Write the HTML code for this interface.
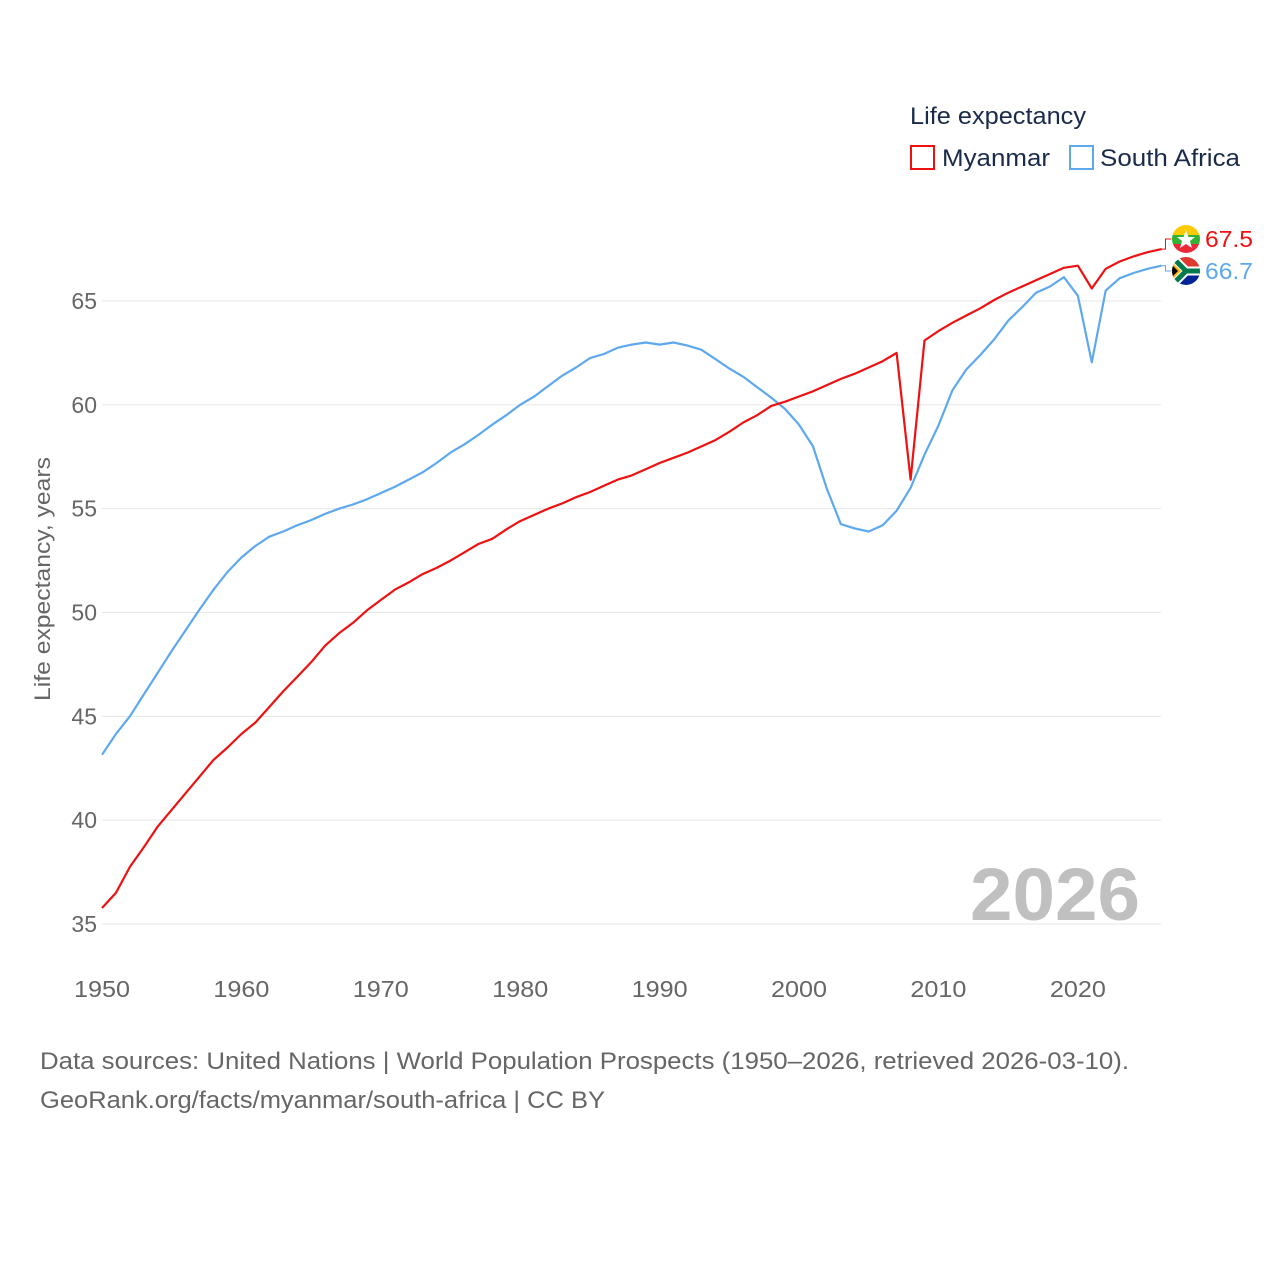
<!DOCTYPE html>
<html><head><meta charset="utf-8">
<style>
html,body{margin:0;padding:0;background:#fff;}
body{width:1280px;height:1280px;overflow:hidden;font-family:"Liberation Sans",sans-serif;}
svg text{font-family:"Liberation Sans",sans-serif;}
</style></head>
<body>
<svg id="chart" width="1280" height="1280" viewBox="0 0 1280 1280" xmlns="http://www.w3.org/2000/svg">
  <g id="grid"></g>
  <g id="yticks"></g>
  <g id="xticks"></g>
  <text transform="translate(50,579) rotate(-90)" text-anchor="middle" font-size="22" fill="#666" textLength="244" lengthAdjust="spacingAndGlyphs">Life expectancy, years</text>
  <text x="1140" y="920" text-anchor="end" font-size="74" font-weight="bold" fill="#c0c0c0" textLength="170" lengthAdjust="spacingAndGlyphs">2026</text>
  <g id="series"></g>
  <g>
    <text x="910" y="124" font-size="24" fill="#1a2b4a" textLength="176" lengthAdjust="spacingAndGlyphs">Life expectancy</text>
    <g>
      <rect x="911" y="146" width="23" height="23" fill="none" stroke="#ee1111" stroke-width="2"/>
      <text x="942" y="166" font-size="24" fill="#1a2b4a" textLength="108" lengthAdjust="spacingAndGlyphs">Myanmar</text>
    </g>
    <g>
      <rect x="1070" y="146" width="23" height="23" fill="none" stroke="#5ea8ee" stroke-width="2"/>
      <text x="1100" y="166" font-size="24" fill="#1a2b4a" textLength="140" lengthAdjust="spacingAndGlyphs">South Africa</text>
    </g>
  </g>
  <g>
    <text x="40" y="1069" font-size="24" fill="#666" textLength="1089" lengthAdjust="spacingAndGlyphs">Data sources: United Nations | World Population Prospects (1950–2026, retrieved 2026-03-10).</text>
    <text x="40" y="1108" font-size="24" fill="#666" textLength="565" lengthAdjust="spacingAndGlyphs">GeoRank.org/facts/myanmar/south-africa | CC BY</text>
  </g>
</svg>
<script>
const years = [];
for (let y = 1950; y <= 2026; y++) years.push(y);
const myanmar = [35.77,36.5,37.75,38.7,39.7,40.5,41.3,42.1,42.9,43.5,44.15,44.7,45.45,46.2,46.9,47.6,48.4,49.0,49.5,50.1,50.6,51.1,51.45,51.85,52.15,52.5,52.9,53.3,53.55,54.0,54.4,54.7,55.0,55.25,55.55,55.8,56.1,56.4,56.6,56.9,57.2,57.45,57.7,58.0,58.3,58.7,59.15,59.5,59.95,60.15,60.4,60.65,60.95,61.25,61.5,61.8,62.1,62.5,56.4,63.1,63.55,63.95,64.3,64.65,65.05,65.4,65.7,66.0,66.3,66.6,66.7,65.6,66.55,66.9,67.15,67.35,67.5];
const southAfrica = [43.15,44.15,45.0,46.05,47.1,48.15,49.15,50.15,51.1,51.95,52.65,53.2,53.65,53.9,54.2,54.45,54.75,55.0,55.2,55.45,55.75,56.05,56.4,56.75,57.2,57.7,58.1,58.55,59.05,59.5,60.0,60.4,60.9,61.4,61.8,62.25,62.45,62.75,62.9,63.0,62.9,63.0,62.85,62.65,62.2,61.75,61.35,60.85,60.35,59.8,59.05,58.0,55.95,54.25,54.05,53.9,54.2,54.9,56.0,57.6,59.0,60.7,61.7,62.4,63.15,64.05,64.7,65.4,65.7,66.15,65.25,62.05,65.5,66.1,66.35,66.55,66.7];
const yTickLabels = [35,40,45,50,55,60,65];
const xTickLabels = [1950,1960,1970,1980,1990,2000,2010,2020];

const NS = "http://www.w3.org/2000/svg";
const X0 = 102, X1 = 1161.5, Y0 = 924, Y1 = 301;
const xScale = yr => X0 + (yr - 1950) / 76 * (X1 - X0);
const yScale = v => Y0 - (v - 35) / 30 * (Y0 - Y1);
function mk(tag, attrs, parent) { const e = document.createElementNS(NS, tag); for (const k in attrs) e.setAttribute(k, attrs[k]); parent.appendChild(e); return e; }

const grid = document.getElementById('grid'), yt = document.getElementById('yticks'), xt = document.getElementById('xticks');
yTickLabels.forEach(v => {
  const l = mk('line', {x1: 102, x2: 1161, y1: yScale(v), y2: yScale(v), stroke: '#e6e6e6', 'stroke-width': 1}, grid);
  
  
  const t = mk('text', {x: 97, y: yScale(v) + 8, 'text-anchor': 'end', 'font-size': 23, fill: '#666'}, yt);
  t.textContent = v;
  
  
});
xTickLabels.forEach(yr => {
  const t = mk('text', {x: xScale(yr), y: 997, 'text-anchor': 'middle', 'font-size': 23, fill: '#666', textLength: 56, lengthAdjust: 'spacingAndGlyphs'}, xt);
  t.textContent = yr;
  
  
});

const ser = document.getElementById('series');
function drawSeries(vals, color, name, labelY, flag) {
  const d = vals.map((v, i) => (i ? 'L' : 'M') + xScale(years[i]).toFixed(1) + ',' + yScale(v).toFixed(1)).join('');
  const p = mk('path', {d: d, fill: 'none', stroke: color, 'stroke-width': 2.2, 'stroke-linejoin': 'round'}, ser);
  
  
  const last = vals[vals.length - 1];
  const lx = xScale(2026), ly = yScale(last);
  const c = mk('path', {d: `M${lx},${ly}L${lx+4},${ly}L${lx+4},${labelY}L${lx+10},${labelY}`, fill: 'none', stroke: color, 'stroke-width': 1}, ser);
  
  
  const g = mk('g', {}, ser);
  
  
  flag(g, 1186, labelY);
  const t = mk('text', {x: 1205, y: labelY + 8, 'font-size': 23, fill: color, textLength: 48, lengthAdjust: 'spacingAndGlyphs'}, ser);
  t.textContent = last.toFixed(1);
  
  
}
function flagMM(g, cx, cy) {
  const clip = mk('clipPath', {id: 'cmm'}, g);
  mk('circle', {cx: cx, cy: cy, r: 14}, clip);
  const gg = mk('g', {'clip-path': 'url(#cmm)'}, g);
  mk('rect', {x: cx-14, y: cy-14, width: 28, height: 10, fill: '#fecb00'}, gg);
  mk('rect', {x: cx-14, y: cy-4, width: 28, height: 9, fill: '#34b233'}, gg);
  mk('rect', {x: cx-14, y: cy+5, width: 28, height: 10, fill: '#ea2839'}, gg);
  mk('polygon', {points: `${cx},${cy-9} ${cx+2.5},${cy-2} ${cx+9},${cy-2} ${cx+4},${cy+2} ${cx+6},${cy+9} ${cx},${cy+5} ${cx-6},${cy+9} ${cx-4},${cy+2} ${cx-9},${cy-2} ${cx-2.5},${cy-2}`, fill: '#fff'}, gg);
}
function flagZA(g, cx, cy) {
  const clip = mk('clipPath', {id: 'cza'}, g);
  mk('circle', {cx: cx, cy: cy, r: 14}, clip);
  const gg = mk('g', {'clip-path': 'url(#cza)'}, g);
  mk('rect', {x: cx-14, y: cy-14, width: 28, height: 14, fill: '#de3831'}, gg);
  mk('rect', {x: cx-14, y: cy, width: 28, height: 14, fill: '#002395'}, gg);
  mk('path', {d: `M${cx-14},${cy-14}L${cx},${cy}L${cx+14},${cy}M${cx-14},${cy+14}L${cx},${cy}`, stroke: '#fff', 'stroke-width': 9, fill: 'none'}, gg);
  mk('path', {d: `M${cx-14},${cy-14}L${cx},${cy}L${cx+14},${cy}M${cx-14},${cy+14}L${cx},${cy}`, stroke: '#007a4d', 'stroke-width': 5, fill: 'none'}, gg);
  mk('polygon', {points: `${cx-14},${cy-9} ${cx-5},${cy} ${cx-14},${cy+9}`, fill: '#ffb612'}, gg);
  mk('polygon', {points: `${cx-14},${cy-6} ${cx-8},${cy} ${cx-14},${cy+6}`, fill: '#000'}, gg);
}
drawSeries(southAfrica, '#5ea8ee', 'south-africa', 271, flagZA);
drawSeries(myanmar, '#ee1111', 'myanmar', 239, flagMM);
</script>
</body></html>
